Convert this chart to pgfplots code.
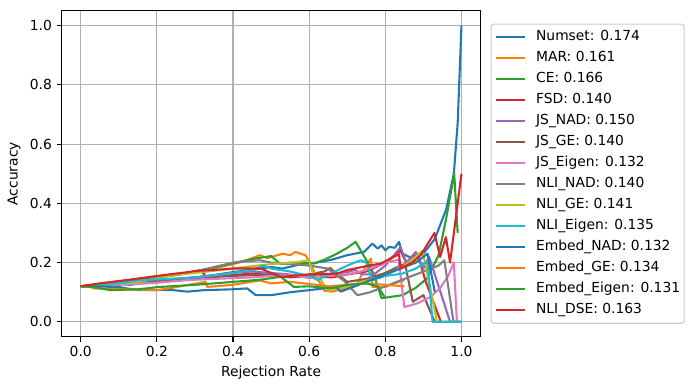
\documentclass[border=0pt]{standalone}
\usepackage{fontspec}
\setmainfont{DejaVu Sans}
\usepackage{pgfplots}
\pgfplotsset{compat=1.18}

\definecolor{c0}{RGB}{31,119,180}
\definecolor{c1}{RGB}{255,127,14}
\definecolor{c2}{RGB}{44,160,44}
\definecolor{c3}{RGB}{214,39,40}
\definecolor{c4}{RGB}{148,103,189}
\definecolor{c5}{RGB}{140,86,75}
\definecolor{c6}{RGB}{227,119,194}
\definecolor{c7}{RGB}{127,127,127}
\definecolor{c8}{RGB}{188,189,34}
\definecolor{c9}{RGB}{23,190,207}
\definecolor{gridgray}{RGB}{176,176,176}
\definecolor{legframe}{RGB}{204,204,204}

\begin{document}
\begin{tikzpicture}
\begin{axis}[
    name=main,
    scale only axis,
    width=4.188in,
    height=3.26in,
    xmin=-0.05, xmax=1.05,
    ymin=-0.05, ymax=1.05,
    xtick={0,0.2,0.4,0.6,0.8,1.0},
    ytick={0,0.2,0.4,0.6,0.8,1.0},
    xticklabel style={/pgf/number format/.cd,fixed,fixed zerofill,precision=1},
    yticklabel style={/pgf/number format/.cd,fixed,fixed zerofill,precision=1},
    /pgf/number format/assume math mode=true,
    tick align=outside,
    major tick length=0.049in,
    tick style={black, line width=0.8pt},
    axis line style={line width=0.8pt},
    xtick pos=bottom, ytick pos=left,
    grid=major,
    major grid style={gridgray, line width=0.8pt},
    xlabel={Rejection Rate},
    ylabel={Accuracy},
    every axis plot/.append style={line width=1.5pt, line join=round},
    legend cell align=left,
    legend image code/.code={\draw[#1] (0in,0in) -- (0.29in,0in);},
    legend style={
        at={(1,0.5)}, anchor=west, xshift=0.1in,
        draw=legframe, rounded corners=2pt, line width=0.8pt,
        inner xsep=0.04in, inner ysep=0.065in,
        column sep=0.1in, row sep=0.08in,
        nodes={inner sep=0pt, text height=0.1in, text depth=0.03in},
        font=\fontsize{10pt}{12pt}\selectfont
    }
]
% Numset
\addplot[c0] coordinates {(0,0.12)(0.05,0.124)(0.1,0.128)(0.13,0.125)(0.2,0.137)(0.25,0.145)(0.3,0.15)(0.35,0.158)(0.4,0.168)(0.45,0.176)(0.5,0.185)(0.53,0.18)(0.58,0.195)(0.62,0.2)(0.66,0.21)(0.7,0.225)(0.744,0.236)(0.766,0.264)(0.78,0.247)(0.79,0.258)(0.80,0.242)(0.81,0.253)(0.825,0.25)(0.836,0.27)(0.845,0.23)(0.87,0.215)(0.9,0.23)(0.93,0.28)(0.96,0.38)(0.98,0.5)(0.99,0.67)(1.0,1.0)};
\addlegendentry{Numset: 0.174}
% MAR
\addplot[c1] coordinates {(0,0.12)(0.05,0.127)(0.1,0.133)(0.15,0.14)(0.2,0.15)(0.25,0.158)(0.3,0.17)(0.35,0.18)(0.4,0.195)(0.43,0.205)(0.47,0.225)(0.49,0.215)(0.53,0.23)(0.55,0.225)(0.564,0.236)(0.59,0.225)(0.6,0.205)(0.62,0.15)(0.64,0.105)(0.66,0.102)(0.7,0.115)(0.727,0.13)(0.753,0.197)(0.762,0.214)(0.766,0.118)(0.8,0.118)(0.835,0.135)(0.85,0.14)};
\addlegendentry{MAR: 0.161}
% CE
\addplot[c2] coordinates {(0,0.12)(0.05,0.126)(0.1,0.132)(0.15,0.14)(0.2,0.15)(0.25,0.158)(0.3,0.17)(0.35,0.183)(0.4,0.198)(0.45,0.212)(0.5,0.222)(0.525,0.195)(0.55,0.2)(0.613,0.197)(0.64,0.21)(0.67,0.228)(0.7,0.25)(0.722,0.27)(0.745,0.22)(0.77,0.16)(0.79,0.08)(0.845,0.09)(0.88,0.115)(0.91,0.147)(0.94,0.225)(0.96,0.35)(0.981,0.5)(0.99,0.3)};
\addlegendentry{CE: 0.166}
% FSD
\addplot[c3] coordinates {(0,0.12)(0.05,0.128)(0.1,0.135)(0.15,0.145)(0.2,0.153)(0.25,0.16)(0.3,0.168)(0.315,0.174)(0.33,0.152)(0.4,0.158)(0.45,0.163)(0.5,0.158)(0.55,0.15)(0.6,0.155)(0.66,0.15)(0.7,0.16)(0.75,0.17)(0.8,0.2)(0.84,0.24)(0.855,0.2)(0.885,0.23)(0.905,0.14)(0.946,0.0)(1.0,0.0)};
\addlegendentry{FSD: 0.140}
% JS_NAD
\addplot[c4] coordinates {(0,0.12)(0.1,0.13)(0.2,0.14)(0.3,0.15)(0.4,0.165)(0.45,0.17)(0.5,0.165)(0.55,0.16)(0.6,0.15)(0.65,0.16)(0.7,0.168)(0.72,0.175)(0.74,0.16)(0.77,0.16)(0.8,0.19)(0.84,0.252)(0.855,0.2)(0.88,0.236)(0.9,0.18)(0.915,0.22)(0.97,0.0)(1.0,0.0)};
\addlegendentry{JS\_NAD: 0.150}
% JS_GE
\addplot[c5] coordinates {(0,0.12)(0.1,0.128)(0.2,0.138)(0.3,0.148)(0.4,0.155)(0.5,0.16)(0.55,0.152)(0.6,0.16)(0.64,0.17)(0.655,0.182)(0.67,0.165)(0.7,0.135)(0.75,0.145)(0.8,0.165)(0.84,0.19)(0.852,0.195)(0.872,0.068)(0.9,0.09)(0.93,0.0)(1.0,0.0)};
\addlegendentry{JS\_GE: 0.140}
% JS_Eigen
\addplot[c6] coordinates {(0,0.12)(0.1,0.125)(0.2,0.132)(0.28,0.141)(0.35,0.145)(0.45,0.15)(0.5,0.155)(0.55,0.158)(0.6,0.148)(0.65,0.155)(0.7,0.16)(0.75,0.175)(0.8,0.2)(0.835,0.21)(0.85,0.05)(0.885,0.063)(0.92,0.085)(0.946,0.118)(0.965,0.155)(0.98,0.2)(0.988,0.0)(1.0,0.0)};
\addlegendentry{JS\_Eigen: 0.132}
% NLI_NAD
\addplot[c7] coordinates {(0,0.12)(0.1,0.135)(0.2,0.15)(0.3,0.17)(0.4,0.2)(0.47,0.208)(0.5,0.2)(0.55,0.195)(0.6,0.19)(0.648,0.18)(0.69,0.14)(0.727,0.09)(0.76,0.1)(0.8,0.12)(0.86,0.15)(0.9,0.17)(0.94,0.19)(0.955,0.208)(0.979,0.0)(1.0,0.0)};
\addlegendentry{NLI\_NAD: 0.140}
% NLI_GE
\addplot[c8] coordinates {(0,0.12)(0.1,0.128)(0.156,0.135)(0.244,0.158)(0.3,0.165)(0.4,0.18)(0.45,0.188)(0.5,0.195)(0.56,0.2)(0.6,0.208)(0.608,0.17)(0.622,0.158)(0.648,0.107)(0.7,0.12)(0.78,0.15)(0.84,0.18)(0.87,0.21)(0.898,0.24)(0.936,0.0)(1.0,0.0)};
\addlegendentry{NLI\_GE: 0.141}
% NLI_Eigen
\addplot[c9] coordinates {(0,0.12)(0.1,0.13)(0.156,0.141)(0.2,0.143)(0.3,0.15)(0.39,0.163)(0.45,0.175)(0.48,0.19)(0.5,0.18)(0.55,0.17)(0.6,0.155)(0.622,0.141)(0.66,0.165)(0.7,0.19)(0.735,0.208)(0.75,0.2)(0.765,0.14)(0.8,0.155)(0.845,0.163)(0.88,0.18)(0.911,0.205)(0.924,0.0)(1.0,0.0)};
\addlegendentry{NLI\_Eigen: 0.135}
% Embed_NAD
\addplot[c0] coordinates {(0,0.12)(0.1,0.118)(0.12,0.113)(0.157,0.107)(0.244,0.107)(0.28,0.102)(0.323,0.107)(0.4,0.11)(0.437,0.113)(0.46,0.09)(0.5,0.09)(0.55,0.1)(0.6,0.107)(0.67,0.118)(0.683,0.102)(0.72,0.12)(0.78,0.15)(0.84,0.18)(0.88,0.2)(0.911,0.23)(0.93,0.1)};
\addlegendentry{Embed\_NAD: 0.132}
% Embed_GE
\addplot[c1] coordinates {(0,0.12)(0.025,0.118)(0.035,0.113)(0.2,0.107)(0.23,0.113)(0.328,0.135)(0.332,0.118)(0.4,0.125)(0.47,0.14)(0.5,0.13)(0.55,0.135)(0.6,0.128)(0.65,0.12)(0.7,0.125)(0.75,0.13)(0.8,0.125)(0.85,0.12)};
\addlegendentry{Embed\_GE: 0.134}
% Embed_Eigen
\addplot[c2] coordinates {(0,0.12)(0.03,0.118)(0.078,0.107)(0.15,0.11)(0.209,0.118)(0.3,0.125)(0.4,0.135)(0.47,0.142)(0.525,0.152)(0.56,0.118)(0.6,0.12)(0.657,0.113)(0.7,0.125)(0.75,0.13)(0.78,0.12)(0.8,0.08)};
\addlegendentry{Embed\_Eigen: 0.131}
% NLI_DSE
\addplot[c3] coordinates {(0,0.12)(0.05,0.13)(0.1,0.138)(0.156,0.147)(0.2,0.155)(0.288,0.169)(0.3,0.172)(0.35,0.175)(0.4,0.18)(0.45,0.18)(0.473,0.18)(0.5,0.165)(0.525,0.152)(0.6,0.16)(0.674,0.163)(0.7,0.175)(0.762,0.191)(0.788,0.197)(0.823,0.22)(0.836,0.228)(0.84,0.18)(0.87,0.2)(0.893,0.225)(0.929,0.3)(0.944,0.219)(0.959,0.286)(0.97,0.2)(1.0,0.5)};
\addlegendentry{NLI\_DSE: 0.163}
\coordinate (ll) at (rel axis cs:0,0);
\end{axis}
\pgfresetboundingbox
\path (ll) ++(-0.617in,-0.533in) rectangle ++(6.92in,3.9in);
\end{tikzpicture}
\end{document}
